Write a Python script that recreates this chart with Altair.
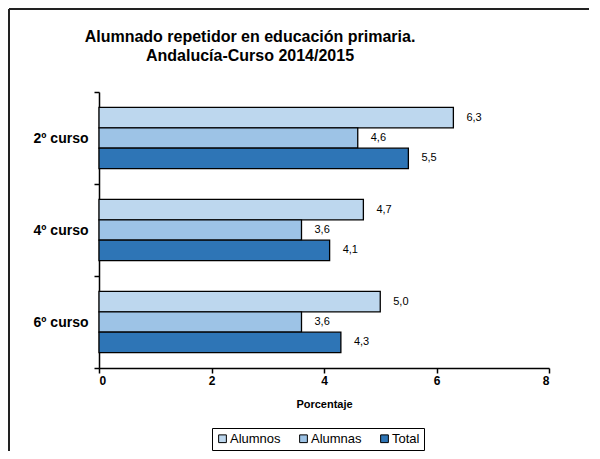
import altair as alt
import pandas as pd

cursos = ["2º curso", "4º curso", "6º curso"]
series = ["Alumnos", "Alumnas", "Total"]
alumnos = [6.3, 4.7, 5.0]
alumnas = [4.6, 3.6, 3.6]
total = [5.5, 4.1, 4.3]
colors = ["#BDD7EE", "#9DC3E6", "#2E75B6"]
title_lines = ["Alumnado repetidor en educación primaria.",
               "Andalucía-Curso 2014/2015"]

rows = []
for i, c in enumerate(cursos):
    for s, vals in zip(series, [alumnos, alumnas, total]):
        v = vals[i]
        rows.append({"curso": c, "serie": s, "valor": v,
                     "etiqueta": f"{v:.1f}".replace(".", ",")})
df = pd.DataFrame(rows)

FONT = "Liberation Sans"
W, H = 450, 276

base = alt.Chart(df).encode(
    y=alt.Y("curso:N", sort=cursos,
            scale=alt.Scale(paddingInner=0, paddingOuter=0),
            axis=alt.Axis(title=None, tickBand="extent", labelFont=FONT,
                          labelFontSize=14, labelFontWeight="bold",
                          labelColor="black", domainColor="black",
                          tickColor="black", tickSize=5, labelPadding=6,
                          domainWidth=1.5, tickWidth=1.5)),
    yOffset=alt.YOffset("serie:N", sort=series,
                        scale=alt.Scale(paddingInner=0, paddingOuter=0.76)),
)

bars = base.mark_bar(stroke="black", strokeWidth=1.3).encode(
    x=alt.X("valor:Q", scale=alt.Scale(domain=[0, 8]),
            axis=alt.Axis(values=[0, 2, 4, 6, 8], format="d",
                          title="Porcentaje",
                          grid=False, labelFont=FONT, labelFontSize=12,
                          labelFontWeight="bold", labelColor="black",
                          titleFont=FONT, titleFontSize=11,
                          titleFontWeight="bold", titleColor="black",
                          domainColor="black", tickColor="black",
                          tickSize=5, titlePadding=12,
                          domainWidth=1.5, tickWidth=1.5)),
    color=alt.Color("serie:N", sort=series,
                    scale=alt.Scale(domain=series, range=colors),
                    legend=alt.Legend(title=None, orient="none",
                                      direction="horizontal",
                                      legendX=113, legendY=336,
                                      symbolType="square", symbolSize=60,
                                      symbolStrokeColor="black",
                                      symbolStrokeWidth=1,
                                      labelFont=FONT, labelFontSize=13,
                                      labelColor="black", columnPadding=16,
                                      labelOffset=1,
                                      strokeColor="black", padding=4,
                                      cornerRadius=0)),
)

labels = base.mark_text(align="left", baseline="middle", dx=13,
                        font=FONT, fontSize=11, color="black").encode(
    x="valor:Q",
    text="etiqueta:N",
)

title1 = alt.Chart(alt.Data(values=[{"t": title_lines[0]}])).mark_text(
    font=FONT, fontSize=16, fontWeight="bold", color="black",
    align="center", baseline="middle").encode(
    text="t:N", x=alt.value(151), y=alt.value(-55))
title2 = alt.Chart(alt.Data(values=[{"t": title_lines[1]}])).mark_text(
    font=FONT, fontSize=16, fontWeight="bold", color="black",
    align="center", baseline="middle").encode(
    text="t:N", x=alt.value(151), y=alt.value(-36))

frame_data = alt.Data(values=[{"k": 1}])
left_line = alt.Chart(frame_data).mark_rule(color="#222", strokeWidth=2).encode(
    x=alt.value(-90), y=alt.value(-83), y2=alt.value(H + 90))
top_line = alt.Chart(frame_data).mark_rule(color="#222", strokeWidth=2).encode(
    x=alt.value(-90), x2=alt.value(W + 40), y=alt.value(-83))

chart = alt.layer(bars, labels, title1, title2, left_line, top_line).properties(
    width=W, height=H,
    autosize=alt.AutoSizeParams(type="none"),
    padding={"left": 91, "top": 84, "right": 40, "bottom": 83},
).configure_view(stroke=None)

chart.save("out.html", embed_options={"renderer": "svg", "actions": False})
